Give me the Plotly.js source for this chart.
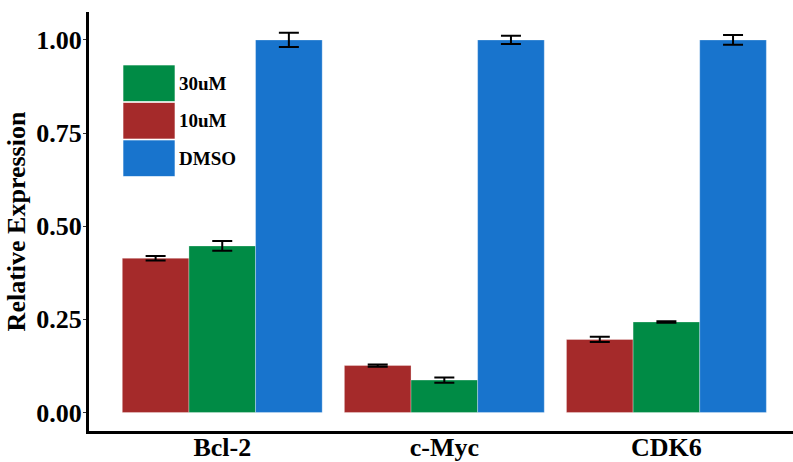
<!DOCTYPE html>
<html>
<head>
<meta charset="utf-8">
<script src="https://cdn.plot.ly/plotly-3.0.1.min.js"></script>
<style>html,body{margin:0;padding:0;background:#fff}#chart{width:793px;height:462px}</style>
</head>
<body>
<div id="chart"></div>
<script>
// ---- data ----
const genes = ['Bcl-2', 'c-Myc', 'CDK6'];
const seriesNames = ['10uM', '30uM', 'DMSO'];
const values10uM = [0.414, 0.126, 0.196];
const errors10uM = [0.006, 0.003, 0.007];
const values30uM = [0.447, 0.087, 0.243];
const errors30uM = [0.013, 0.007, 0.002];
const valuesDMSO = [1.00, 1.00, 1.00];
const errorsDMSO = [0.019, 0.011, 0.013];
const legendOrder = ['30uM', '10uM', 'DMSO'];
const yTicks = [0, 0.25, 0.5, 0.75, 1.0];
const yTickLabels = ['0.00', '0.25', '0.50', '0.75', '1.00'];

// ---- style ----
const colors = {'10uM': '#A52A2A', '30uM': '#008B45', 'DMSO': '#1874CD'};
const font = {family: '"Liberation Serif", "Times New Roman", serif', color: '#000', weight: 'bold'};

const W = 793, H = 462;
const M = {l: 89, r: 0, t: 12, b: 31};
const pw = W - M.l - M.r, ph = H - M.t - M.b;
const px = x => (x - M.l) / pw;
const py = y => 1 - (y - M.t) / ph;

const vals = {'10uM': values10uM, '30uM': values30uM, 'DMSO': valuesDMSO};
const errs = {'10uM': errors10uM, '30uM': errors30uM, 'DMSO': errorsDMSO};

const traces = seriesNames.map(name => ({
  type: 'bar',
  name: name,
  x: genes,
  y: vals[name],
  marker: {color: colors[name], line: {color: 'rgba(255,255,255,0.5)', width: 0.6}},
  error_y: {type: 'data', array: errs[name], visible: true, color: '#000', thickness: 2, width: 10},
  showlegend: false,
  hoverinfo: 'x+y+name'
}));

// manual legend with large keys
const shapes = [], annotations = [];
const keyX0 = 123, keyX1 = 175, keyTop = 65, keyH = 37.5;
legendOrder.forEach((name, i) => {
  const y0 = keyTop + i * keyH, y1 = y0 + keyH - 1;
  shapes.push({type: 'rect', xref: 'paper', yref: 'paper',
    x0: px(keyX0), x1: px(keyX1), y0: py(y1), y1: py(y0),
    fillcolor: colors[name], line: {color: 'rgba(255,255,255,0.6)', width: 1}, layer: 'above'});
  annotations.push({xref: 'paper', yref: 'paper', x: px(keyX1 + 2), y: py((y0 + y1) / 2),
    xanchor: 'left', yanchor: 'middle', text: name, showarrow: false,
    font: Object.assign({}, font, {size: 19})});
});

const layout = {
  width: W, height: H,
  margin: M,
  paper_bgcolor: '#fff', plot_bgcolor: '#fff',
  barmode: 'group', bargap: 0.1, bargroupgap: 0,
  showlegend: false,
  font: font,
  xaxis: {
    range: [-0.6, 2.57], showgrid: false, zeroline: false,
    showline: true, linecolor: '#000', linewidth: 3,
    ticks: '', tickfont: Object.assign({}, font, {size: 26}),
    ticklabelstandoff: -9,
    fixedrange: true
  },
  yaxis: {
    range: [-0.0497, 1.075], showgrid: false, zeroline: false,
    showline: true, linecolor: '#000', linewidth: 3,
    tickvals: yTicks, ticktext: yTickLabels,
    ticks: 'outside', ticklen: 3, tickwidth: 1, tickcolor: '#333',
    tickfont: Object.assign({}, font, {size: 26}),
    ticklabelstandoff: -4,
    title: {text: 'Relative Expression', font: Object.assign({}, font, {size: 26}), standoff: 4},
    fixedrange: true
  },
  shapes: shapes,
  annotations: annotations
};

Plotly.newPlot('chart', traces, layout, {displayModeBar: false, staticPlot: true});
</script>
</body>
</html>
